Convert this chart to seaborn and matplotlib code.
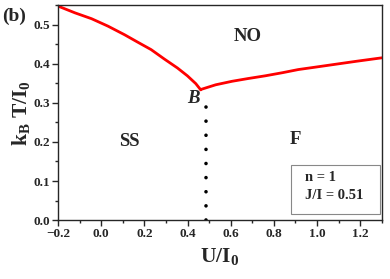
import numpy as np
import pandas as pd
import matplotlib
matplotlib.use("Agg")
import matplotlib.pyplot as plt
import seaborn as sns
from matplotlib.ticker import MultipleLocator
from matplotlib.patches import Rectangle

# phase boundary
u_left = [-0.199, -0.122, -0.045, 0.031, 0.108, 0.169, 0.231, 0.292, 0.353, 0.399, 0.438, 0.461]
t_left = [0.547, 0.530, 0.515, 0.496, 0.474, 0.455, 0.436, 0.412, 0.389, 0.369, 0.349, 0.333]
u_right = [0.461, 0.53, 0.606, 0.68, 0.760, 0.84, 0.913, 0.99, 1.066, 1.18, 1.30]
t_right = [0.334, 0.346, 0.355, 0.362, 0.369, 0.377, 0.385, 0.391, 0.397, 0.406, 0.415]
u_dot = [0.485, 0.485]
t_dot = [0.0, 0.325]

sns.set_style("ticks")
plt.rcParams['font.family'] = ['Liberation Serif', 'DejaVu Serif']
plt.rcParams['font.weight'] = 'bold'
plt.rcParams['mathtext.fontset'] = 'custom'
plt.rcParams['mathtext.rm'] = 'Liberation Serif:bold'
plt.rcParams['mathtext.it'] = 'Liberation Serif:bold:italic'
plt.rcParams['mathtext.bf'] = 'Liberation Serif:bold'

fig = plt.figure(figsize=(3.9, 2.79), dpi=100)
ax = fig.add_axes([0.149, 0.211, 0.830, 0.771])

df_l = pd.DataFrame({"U": u_left, "T": t_left})
df_r = pd.DataFrame({"U": u_right, "T": t_right})
sns.lineplot(data=df_l, x="U", y="T", color="red", lw=2, ax=ax)
sns.lineplot(data=df_r, x="U", y="T", color="red", lw=2, ax=ax)
ax.plot(u_dot, t_dot, color="black", lw=2.6, ls=(0, (0.01, 3.9)),
        dash_capstyle='round', solid_capstyle='round')

ax.set_xlim(-0.2, 1.3)
ax.set_ylim(0, 0.55)
ax.xaxis.set_major_locator(MultipleLocator(0.2))
ax.xaxis.set_minor_locator(MultipleLocator(0.1))
ax.yaxis.set_major_locator(MultipleLocator(0.1))
ax.yaxis.set_minor_locator(MultipleLocator(0.05))
ax.tick_params(which='major', length=4, width=1, labelsize=9.5, pad=2)
ax.tick_params(which='minor', length=2.5, width=1)
for lab in ax.get_xticklabels() + ax.get_yticklabels():
    lab.set_fontweight('bold')
for s in ax.spines.values():
    s.set_linewidth(1)
    s.set_visible(True)

ax.set_xlabel(r"U/I$_\mathregular{0}$", fontsize=15.5, fontweight='bold', labelpad=4)
ax.set_ylabel(r"k$_\mathregular{B}$ T/I$_\mathregular{0}$", fontsize=15.5, fontweight='bold', labelpad=1)

ax.text(0.68, 0.47, "NO", fontsize=13.5, fontweight='bold', ha='center', va='center')
ax.text(0.13, 0.20, "SS", fontsize=13.5, fontweight='bold', ha='center', va='center')
ax.text(0.90, 0.205, "F", fontsize=13.5, fontweight='bold', ha='center', va='center')
ax.text(0.455, 0.31, "B", fontsize=13.5, fontweight='bold', style='italic', ha='right', va='center')

ax.add_patch(Rectangle((0.88, 0.015), 0.41, 0.126, fill=False, ec='#888888', lw=0.8))
ax.text(0.945, 0.108, "n = 1", fontsize=10.5, fontweight='bold', ha='left', va='center')
ax.text(0.945, 0.062, "J/I = 0.51", fontsize=10.5, fontweight='bold', ha='left', va='center')
fig.text(0.005, 0.925, "(b)", fontsize=14, fontweight='bold')

fig.savefig("out.png", dpi=100)
